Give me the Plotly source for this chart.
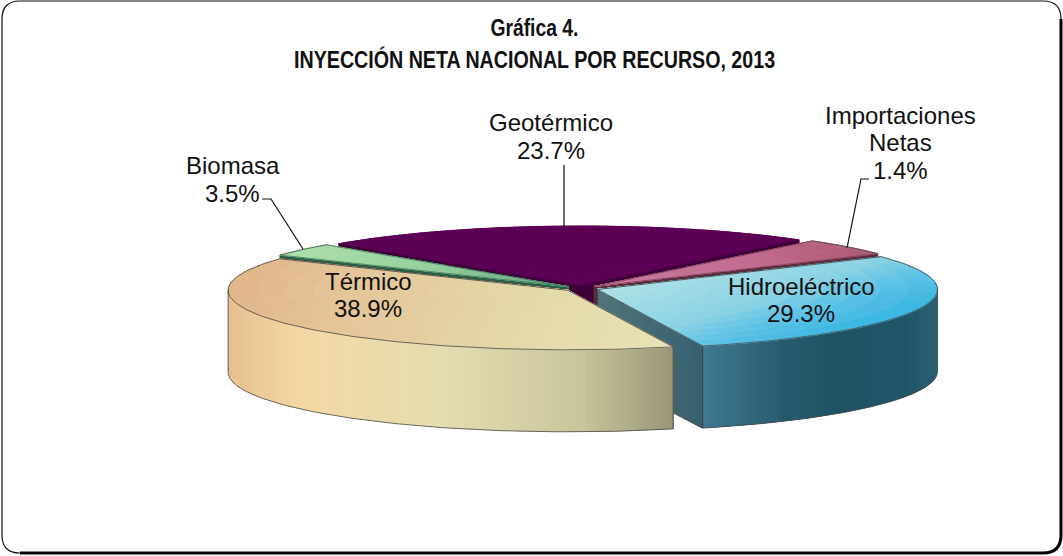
import math
import plotly.graph_objects as go

# ---- data ----
categories = ["Hidroeléctrico", "Térmico", "Biomasa", "Geotérmico", "Importaciones Netas"]
printed_pct = ["29.3%", "38.9%", "3.5%", "23.7%", "1.4%"]
# slice shares as drawn (the imports slice is drawn wider than its printed label)
slice_share = [29.3, 38.9, 3.5, 23.7, 4.6]
title_lines = ["Gráfica 4.", "INYECCIÓN NETA NACIONAL POR RECURSO, 2013"]

W, H = 1063, 556
CX, CY, A, B, DEPTH, EXPLODE = 581.5, 288.5, 340.0, 59.5, 82.0, 0.05
START = 162.0  # clockwise from the top, where Térmico begins


def hex2rgb(h):
    return tuple(int(h[i:i + 2], 16) for i in (1, 3, 5))


def ramp(stops, t):
    t = max(stops[0][0], min(stops[-1][0], t))
    for (t0, c0), (t1, c1) in zip(stops, stops[1:]):
        if t <= t1:
            f = (t - t0) / (t1 - t0) if t1 > t0 else 0
            a, b = hex2rgb(c0), hex2rgb(c1)
            return "#%02x%02x%02x" % tuple(round(a[i] + (b[i] - a[i]) * f) for i in range(3))
    return stops[-1][1]


STYLE = {
    "Térmico": dict(
        top=((1, 0.35), [(0, "#e1b387"), (120, "#e5c599"), (300, "#e5d8a8"), (460, "#e7e2b5")], (228, 258)),
        wall=[(228, "#e6bf90"), (300, "#f5d8a4"), (440, "#e5ddb0"), (580, "#c9c59c"), (672, "#9a9778")],
        cut=[(560, "#8d8a6e"), (672, "#8d8a6e")],
    ),
    "Hidroeléctrico": dict(
        top=((1, 3), [(0, "#b1e3e8"), (205, "#8dd3e5"), (285, "#5fc3e6"), (375, "#3db7e4")], (600, 285)),
        wall=[(702, "#3f7a91"), (760, "#2e6478"), (830, "#1f5364"), (905, "#1f5667"), (938, "#2b6073")],
        cut=[(597, "#537379"), (702, "#38606f")],
    ),
    "Biomasa": dict(
        top=((1, 0), [(0, "#aee2ad"), (150, "#98cf9f"), (290, "#5fa57f")], (282, 255)),
        wall=[(280, "#2c5c44"), (570, "#2c5c44")],
        cut=[(280, "#2c5c44"), (570, "#2c5c44")],
    ),
    "Geotérmico": dict(
        top=((1, 0), [(0, "#5c0056"), (1, "#5c0056")], (0, 0)),
        wall=[(300, "#3d0039"), (820, "#3d0039")],
        cut=[(300, "#3d0039"), (820, "#3d0039")],
    ),
    "Importaciones Netas": dict(
        top=((1, 0), [(0, "#ca7ea2"), (160, "#c46c92"), (290, "#ac5a72")], (590, 250)),
        wall=[(590, "#5b2a3b"), (880, "#5b2a3b")],
        cut=[(590, "#5b2a3b"), (880, "#5b2a3b")],
    ),
}

# angular extents derived from the shares
spans = {}
a0 = START
for name in ["Térmico", "Biomasa", "Geotérmico", "Importaciones Netas", "Hidroeléctrico"]:
    sweep = slice_share[categories.index(name)] * 3.6
    spans[name] = (a0, a0 + sweep)
    a0 += sweep


def offset(name):
    t0, t1 = spans[name]
    m = math.radians((t0 + t1) / 2)
    return EXPLODE * A * math.sin(m), -EXPLODE * B * math.cos(m)


def pt(name, theta, r=1.0, dz=0.0):
    ox, oy = offset(name)
    t = math.radians(theta)
    return CX + ox + A * r * math.sin(t), CY + oy - B * r * math.cos(t) + dz


fig = go.Figure()


def add_polys(polys, lw=1):
    groups = {}
    for poly, col in polys:
        groups.setdefault(col, []).append(poly)
    for col, plist in groups.items():
        xs, ys = [], []
        for p in plist:
            xs += [q[0] for q in p] + [p[0][0], None]
            ys += [q[1] for q in p] + [p[0][1], None]
        fig.add_trace(go.Scatter(x=xs, y=ys, mode="lines", fill="toself", fillcolor=col,
                                 line=dict(color=col, width=lw), hoverinfo="skip", showlegend=False))


def add_line(pts, color="#3a3a3a", width=0.8):
    fig.add_trace(go.Scatter(x=[p[0] for p in pts], y=[p[1] for p in pts], mode="lines",
                             line=dict(color=color, width=width), hoverinfo="skip", showlegend=False))


def draw_slice(name):
    st = STYLE[name]
    t0, t1 = spans[name]
    steps = max(2, int((t1 - t0) / 1.0))
    th = [t0 + (t1 - t0) * i / steps for i in range(steps + 1)]
    # radial cut faces
    polys = []
    for edge in (t1, t0):
        n = 24
        for i in range(n):
            r0, r1 = i / n, (i + 1) / n
            p0, p1 = pt(name, edge, r0), pt(name, edge, r1)
            col = ramp(st["cut"], (p0[0] + p1[0]) / 2)
            polys.append(([p0, p1, (p1[0], p1[1] + DEPTH), (p0[0], p0[1] + DEPTH)], col))
        add_polys(polys)
        polys = []
    # outer wall: each strip runs under the next one, so no seams show
    front = []
    visible = [(u, v) for u, v in zip(th, th[1:]) if math.cos(math.radians((u + v) / 2)) < 0]
    for i, (u, v) in enumerate(visible):
        w = visible[min(i + 2, len(visible) - 1)][1]
        p0, p1, pm = pt(name, u), pt(name, w), pt(name, v)
        col = ramp(st["wall"], (p0[0] + pm[0]) / 2)
        mid = [pt(name, x) for x in th if u <= x <= w]
        polys.append((mid + [(q[0], q[1] + DEPTH) for q in reversed(mid)], col))
        front += [u, v]
    add_polys(polys, lw=0)
    # top face
    (gx, gy), stops, (ox, oy) = st["top"]
    polys = []
    rings = 12
    for j in range(rings):
        r0, r1 = j / rings, (j + 1) / rings
        for u, v in zip(th, th[1:]):
            cell = [pt(name, u, r0), pt(name, u, r1), pt(name, v, r1), pt(name, v, r0)]
            mx = sum(c[0] for c in cell) / 4
            my = sum(c[1] for c in cell) / 4
            t = (mx - ox) * gx + (my - oy) * gy
            t = round(t / 8) * 8
            polys.append((cell, ramp(stops, t)))
    add_polys(polys)
    # outlines
    apex = pt(name, t0, 0)
    edge_col = {"Geotérmico": "#3d0039", "Biomasa": "#3f7a5a", "Importaciones Netas": "#7b3f55"}.get(name, "#3a3a3a")
    add_line([apex, pt(name, t0)], edge_col)
    add_line([apex, pt(name, t1)], edge_col)
    add_line([pt(name, t) for t in th], "#4a4a4a" if name != "Geotérmico" else "#5c0056")
    if front:
        u0, u1 = min(front), max(front)
        sub = [t for t in th if u0 <= t <= u1]
        add_line([(p[0], p[1] + DEPTH) for p in (pt(name, t) for t in sub)], "#4a4a4a")
        a = pt(name, u0)
        b = pt(name, u1)
        add_line([a, (a[0], a[1] + DEPTH)], "#3a3a3a")
        add_line([b, (b[0], b[1] + DEPTH)], "#3a3a3a")
    if name == "Hidroeléctrico":
        ap, c = pt(name, t1, 0), pt(name, t1)
        add_line([(ap[0], ap[1]), (ap[0], ap[1] + 20)], "#3a3a3a")
        add_line([(c[0], c[1] + DEPTH), (c[0] - 40, c[1] + DEPTH - 20.5)], "#3a3a3a")


for slice_name in ["Geotérmico", "Importaciones Netas", "Biomasa", "Hidroeléctrico", "Térmico"]:
    draw_slice(slice_name)

# leader lines
for pts in ([(262, 199), (271, 199), (303, 249)],
            [(564, 165), (564, 227)],
            [(869, 179), (861, 179), (847, 248)]):
    add_line(pts, "#111111", 1.2)

# text
FONT = "Liberation Sans"
annos = []


def txt(s, x, y, size=24, family=FONT, weight=400, color="#111111"):
    annos.append(dict(text=s, x=x, y=y, xref="x", yref="y", showarrow=False, xanchor="center",
                      yanchor="middle", align="center",
                      font=dict(family=family, size=size, color=color, weight=weight)))


LABEL_XY = {
    "Hidroeléctrico": [(801, 286), (801, 313)],
    "Térmico": [(368, 281), (368, 308)],
    "Biomasa": [(233, 165), (232, 193)],
    "Geotérmico": [(551, 122), (551, 150)],
    "Importaciones Netas": [(900, 115), (900, 142), (900, 170)],
}
for name, pct in zip(categories, printed_pct):
    lines = name.split(" ") + [pct]
    for line, (x, y) in zip(lines, LABEL_XY[name]):
        txt(line, x, y)
txt(title_lines[0], 534, 28, size=23, weight=700)
txt(title_lines[1], 534, 59, size=23, weight=700)

R = 18
frame = (f"M {2+R},1 L {1061-R},1 Q 1061,1 1061,{1+R} L 1061,{553-R} Q 1061,553 {1061-R},553 "
         f"L {2+R},553 Q 2,553 2,{553-R} L 2,{1+R} Q 2,1 {2+R},1 Z")
shadow = f"M 1061,{1+R} L 1061,{553-R} Q 1061,553 {1061-R},553 L {2+R},553"
shapes = [dict(type="path", path=frame, xref="x", yref="y", line=dict(color="#111111", width=1.2), layer="below"),
          dict(type="path", path=shadow, xref="x", yref="y", line=dict(color="#000000", width=3), layer="below")]

fig.update_layout(
    width=W, height=H, margin=dict(l=0, r=0, t=0, b=0), showlegend=False, autosize=False,
    paper_bgcolor="white", plot_bgcolor="white", annotations=annos, shapes=shapes,
    xaxis=dict(range=[0, W], visible=False, fixedrange=True),
    yaxis=dict(range=[H, 0], visible=False, fixedrange=True),
)
# The title font is a narrow face in the reference: fit the real text to its measured widths.
post = """
document.body.style.margin='0';document.body.style.overflow='hidden';
var widths={'Gráfica 4.':88,'INYECCIÓN NETA NACIONAL POR RECURSO, 2013':481};
document.querySelectorAll('.annotation-text').forEach(function(t){
  var w=widths[t.textContent];
  if(w){t.setAttribute('textLength',w);t.setAttribute('lengthAdjust','spacingAndGlyphs');}
});
"""
fig.write_html("out.html", config=dict(displayModeBar=False), post_script=post)
